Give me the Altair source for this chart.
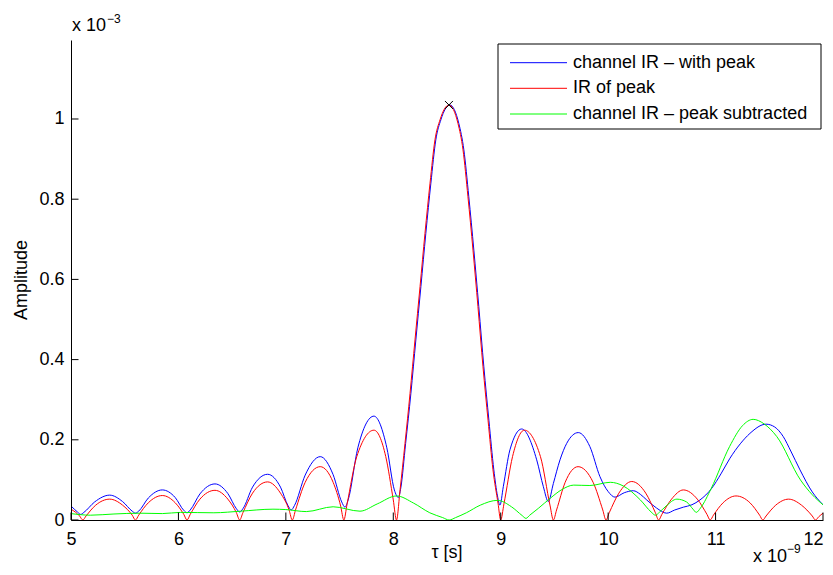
import altair as alt
import pandas as pd

# ---- data (time in 1e-9 s, amplitude in 1e-3) ----
red_t = [5.00, 5.08, 5.11, 5.14, 5.23, 5.36, 5.48, 5.57, 5.60, 5.63, 5.72, 5.85, 5.97, 6.05, 6.08, 6.11,
         6.20, 6.34, 6.46, 6.54, 6.57, 6.60, 6.69, 6.83, 6.95, 7.03, 7.06, 7.09, 7.18, 7.32, 7.44, 7.51,
         7.54, 7.57, 7.66, 7.82, 7.93, 8.00, 8.03,
         8.063, 8.109, 8.156, 8.202, 8.249, 8.295, 8.342, 8.388, 8.435, 8.518, 8.602, 8.649, 8.695,
         8.742, 8.788, 8.835, 8.882, 8.928, 8.975, 9.00,
         9.03, 9.11, 9.22, 9.37, 9.46, 9.49, 9.52, 9.60, 9.72, 9.86, 9.95, 9.98, 10.01, 10.10, 10.22,
         10.35, 10.44, 10.47, 10.50, 10.59, 10.70, 10.83, 10.92, 10.95, 10.98, 11.07, 11.19, 11.32,
         11.41, 11.44, 11.47, 11.56, 11.68, 11.80, 11.90, 11.93, 11.96, 12.00]
red_a = [0.027, 0.010, 0.000, 0.010, 0.037, 0.052, 0.037, 0.012, 0.000, 0.012, 0.043, 0.061, 0.043, 0.014, 0.000, 0.014,
         0.052, 0.074, 0.052, 0.018, 0.000, 0.018, 0.067, 0.095, 0.067, 0.025, 0.000, 0.025, 0.094, 0.133, 0.094, 0.035,
         0.000, 0.040, 0.158, 0.224, 0.158, 0.050, 0.000,
         0.075, 0.191, 0.316, 0.449, 0.582, 0.715, 0.840, 0.948, 0.998, 1.035, 0.989, 0.923, 0.806,
         0.673, 0.532, 0.382, 0.249, 0.125, 0.042, 0.000,
         0.040, 0.158, 0.224, 0.158, 0.035, 0.000, 0.025, 0.094, 0.133, 0.094, 0.025, 0.000, 0.018, 0.067, 0.096,
         0.067, 0.018, 0.000, 0.014, 0.052, 0.075, 0.052, 0.014, 0.000, 0.012, 0.043, 0.060, 0.043,
         0.012, 0.000, 0.010, 0.037, 0.052, 0.037, 0.010, 0.000, 0.008, 0.017]

blue_t = [5.00, 5.06, 5.09, 5.12, 5.22, 5.36, 5.48, 5.57, 5.60, 5.63, 5.72, 5.85, 5.97, 6.05, 6.08, 6.11,
          6.20, 6.34, 6.46, 6.54, 6.57, 6.60, 6.69, 6.83, 6.95, 7.02, 7.05, 7.08, 7.18, 7.32, 7.44, 7.52,
          7.55, 7.58, 7.67, 7.82, 7.94, 8.01, 8.047, 8.07,
          8.115, 8.164, 8.210, 8.257, 8.303, 8.350, 8.396, 8.443, 8.526, 8.610, 8.657, 8.703, 8.750,
          8.796, 8.843, 8.890, 8.936, 8.970, 8.993,
          9.024, 9.086, 9.195, 9.335, 9.397, 9.443, 9.49, 9.552, 9.614, 9.722, 9.83, 9.924, 10.00, 10.064,
          10.15, 10.234, 10.30, 10.359, 10.45, 10.545, 10.62, 10.70, 10.78, 10.855, 10.964, 11.05, 11.134,
          11.23, 11.32, 11.47, 11.55, 11.63, 11.70, 11.786, 11.90, 12.00]
blue_a = [0.035, 0.020, 0.014, 0.019, 0.045, 0.062, 0.046, 0.022, 0.017, 0.022, 0.055, 0.075, 0.056, 0.024, 0.018, 0.025,
          0.065, 0.090, 0.066, 0.028, 0.020, 0.028, 0.082, 0.114, 0.082, 0.036, 0.025, 0.036, 0.112, 0.158, 0.113, 0.045,
          0.032, 0.050, 0.180, 0.259, 0.180, 0.075, 0.056, 0.080,
          0.191, 0.316, 0.449, 0.582, 0.715, 0.840, 0.948, 0.998, 1.035, 0.989, 0.923, 0.806, 0.673,
          0.532, 0.382, 0.249, 0.125, 0.060, 0.037,
          0.083, 0.175, 0.227, 0.150, 0.083, 0.046, 0.091, 0.150, 0.191, 0.218, 0.183, 0.108, 0.071, 0.057,
          0.068, 0.073, 0.064, 0.050, 0.030, 0.017, 0.025, 0.032, 0.038, 0.050, 0.079, 0.115, 0.154,
          0.190, 0.216, 0.239, 0.232, 0.208, 0.172, 0.125, 0.070, 0.038]

green_t = [5.00, 5.18, 5.40, 5.64, 5.85, 6.02, 6.33, 6.58, 6.88, 7.00, 7.19, 7.44, 7.69, 7.85, 8.03, 8.19,
           8.34, 8.46, 8.52, 8.58, 8.68, 8.81, 8.97, 9.10, 9.20, 9.235, 9.27, 9.35, 9.46, 9.57, 9.68, 9.83,
           10.02, 10.14, 10.30, 10.40, 10.44, 10.48, 10.54, 10.64, 10.73, 10.79, 10.82, 10.86, 10.96, 11.13,
           11.25, 11.35, 11.45, 11.57, 11.79, 11.90, 12.00]
green_a = [0.016, 0.012, 0.015, 0.017, 0.016, 0.019, 0.018, 0.022, 0.027, 0.026, 0.021, 0.033, 0.022, 0.040, 0.060, 0.042,
           0.018, 0.006, 0.000, 0.006, 0.018, 0.037, 0.049, 0.033, 0.011, 0.004, 0.012, 0.029, 0.054, 0.076, 0.087, 0.086,
           0.094, 0.085, 0.050, 0.020, 0.012, 0.020, 0.035, 0.052, 0.045, 0.027, 0.019, 0.030, 0.079, 0.183,
           0.235, 0.251, 0.240, 0.208, 0.100, 0.063, 0.038]

peak_t = [8.518]
peak_a = [1.035]

x_ticks = [5, 6, 7, 8, 9, 10, 11, 12]
y_ticks = [0, 0.2, 0.4, 0.6, 0.8, 1.0]

legend_labels = ["channel IR \u2013 with peak", "IR of peak", "channel IR \u2013 peak subtracted"]
legend_colors = ["#0000ff", "#ff0000", "#00ff00"]

FONT = "Liberation Sans"
W, H = 752, 480

xscale = alt.Scale(domain=[5, 12], nice=False, zero=False)
yscale = alt.Scale(domain=[0, 1.197], nice=False, zero=True)
xaxis = alt.Axis(values=x_ticks, format="d", tickSize=0, labelPadding=10, labelFontSize=18,
                 labelFont=FONT, labelColor="black", domainColor="black", domainWidth=1,
                 grid=False, title=None, labelFlush=False, zindex=1,
                 labelAlign={"condition": {"test": "datum.value >= 12", "value": "right"}, "value": "center"})
yaxis = alt.Axis(values=y_ticks, format="~g", tickSize=0, labelPadding=7, labelFontSize=18,
                 labelFont=FONT, labelColor="black", domainColor="black", domainWidth=1,
                 grid=False, title=None, zindex=1)


def X(f):
    return alt.X(f, type="quantitative", scale=xscale, axis=xaxis)


def Y(f):
    return alt.Y(f, type="quantitative", scale=yscale, axis=yaxis)


def series(ts, vals, color):
    df = pd.DataFrame({"t": ts, "a": vals})
    return alt.Chart(df).mark_line(interpolate="monotone", strokeWidth=1, color=color, clip=True).encode(
        x=X("t"), y=Y("a"))


blue = series(blue_t, blue_a, "#0000ff")
red = series(red_t, red_a, "#ff0000")
green = series(green_t, green_a, "#00ff00")

peak = alt.Chart(pd.DataFrame({"t": peak_t, "a": peak_a})).mark_point(
    shape="M-1,-1L1,1M-1,1L1,-1", size=64, filled=False, color="black", strokeWidth=1, opacity=1
).encode(x=X("t"), y=Y("a"))

xt = alt.Chart(pd.DataFrame({"t": x_ticks})).mark_rule(color="black", strokeWidth=1).encode(
    x=X("t"), y=alt.value(H), y2=alt.value(H - 7.5))
yt = alt.Chart(pd.DataFrame({"a": y_ticks})).mark_rule(color="black", strokeWidth=1).encode(
    y=Y("a"), x=alt.value(0), x2=alt.value(7.5))

one = pd.DataFrame({"k": [0]})


def txt(s, x, y, size=18, angle=0, align="left", baseline="alphabetic"):
    kw = dict(text=s, font=FONT, fontSize=size, color="black", align=align, baseline=baseline)
    if angle:
        kw["angle"] = angle
    return alt.Chart(one).mark_text(**kw).encode(x=alt.value(x), y=alt.value(y))


texts = [
    txt("Amplitude", -44, 240, angle=270, align="center"),
    txt("\u03c4 [s]", 376, 518, align="center"),
    txt("x 10", 1, -9),
    txt("\u22123", 36, -17, size=12),
    txt("x 10", 682, 522),
    txt("\u22129", 716, 513, size=12),
]

box = alt.Chart(one).mark_rect(fill="white", stroke="black", strokeWidth=1).encode(
    x=alt.value(427), x2=alt.value(750), y=alt.value(4), y2=alt.value(89))

leg = [box]
rows = [22.7, 48.3, 74.0]
for lab, col, yy in zip(legend_labels, legend_colors, rows):
    leg.append(alt.Chart(one).mark_rule(color=col, strokeWidth=1).encode(
        x=alt.value(439), x2=alt.value(496), y=alt.value(yy)))
    leg.append(txt(lab, 502, yy, baseline="middle"))

chart = alt.layer(blue, red, green, peak, xt, yt, *texts, *leg).properties(
    width=W, height=H,
    autosize=alt.AutoSizeParams(type="none"),
    padding={"left": 63, "top": 32, "right": 2, "bottom": 47},
    background="white",
).configure_view(stroke=None)

chart.save("out.html", embed_options={"renderer": "svg", "actions": False})
